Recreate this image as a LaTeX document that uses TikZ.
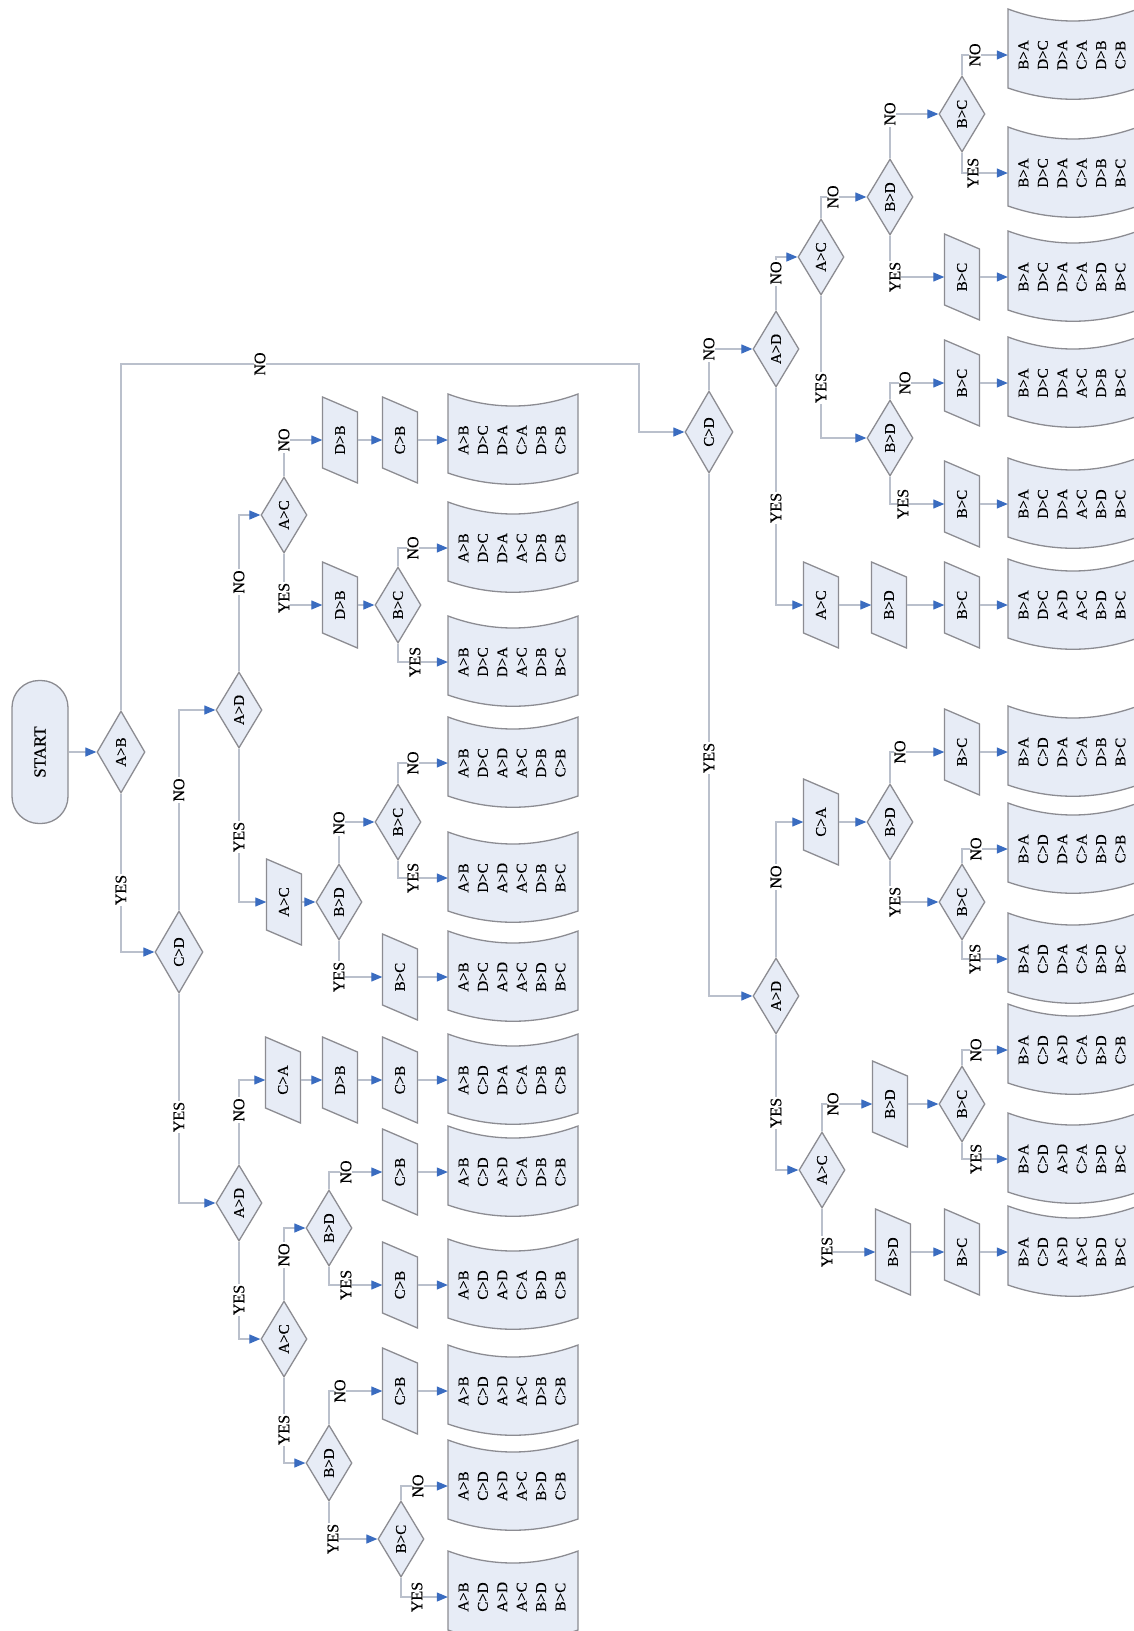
\documentclass[tikz,border=0pt]{standalone}
\usepackage{fontspec}
\setmainfont{Liberation Serif}
\newfontfamily\thk{Liberation Serif}[FakeBold=0.35]
\usetikzlibrary{shapes.geometric,arrows.meta}
\definecolor{shapefill}{RGB}{231,236,246}
\definecolor{shapeline}{RGB}{140,140,146}
\definecolor{linecol}{RGB}{186,192,204}
\definecolor{arrowcol}{RGB}{58,108,192}
\newcommand\nfont{\thk\fontsize{15}{19.4}\selectfont}
\newcommand\lfont{\thk\fontsize{16}{18}\selectfont}
\newcommand\stfont{\thk\fontsize{17}{20}\selectfont}
\tikzset{
 shp/.style={fill=shapefill, draw=shapeline, line width=1.3pt},
 dia/.style={shape=diamond, fill=shapefill, draw=shapeline, line width=1.3pt, minimum width=46pt, minimum height=76pt, inner sep=0pt, font=\nfont},
 bigdia/.style={dia, minimum width=48pt, minimum height=82pt},
 pnode/.style={rectangle, minimum width=35pt, minimum height=56pt, inner sep=0pt, font=\nfont},
 rnode/.style={rectangle, minimum width=130pt, minimum height=78pt, inner sep=0pt, font=\nfont},
 conn/.style={draw=linecol, line width=1.2pt, -{Triangle[length=11pt,width=9pt,color=arrowcol]}},
 lab/.style={fill=white, inner sep=1pt, rotate=90, font=\lfont},
}
\newcommand\pbox[4]{%
 \filldraw[shp] (#2-17.5,#3-43) -- (#2+17.5,#3-28) -- (#2+17.5,#3+43) -- (#2-17.5,#3+28) -- cycle;
 \node[pnode] (#1) at (#2,#3) {\rotatebox{90}{#4}};
}
\newcommand\rbox[4]{%
 \filldraw[shp] (#2-65,#3-46) .. controls (#2-22,#3-30) and (#2+22,#3-30) .. (#2+65,#3-46) -- (#2+65,#3+33) .. controls (#2+22,#3+48) and (#2-22,#3+48) .. (#2-65,#3+33) -- cycle;
 \node[rnode] (#1) at (#2,#3) {\rotatebox{90}{\begin{tabular}{@{}c@{}}#4\end{tabular}}};
}
\begin{document}
\begin{tikzpicture}[x=1pt,y=-1pt]
\fill[white] (0,0) rectangle (1134,1631);
\useasboundingbox (0,0) rectangle (1134,1631);

% ---------- left tree ----------
\node[shp, rectangle, rounded corners=27pt, minimum width=56pt, minimum height=143pt, font=\stfont] (start) at (40,752) {\rotatebox{90}{START}};
\node[bigdia] (AB) at (121,752) {\rotatebox{90}{A>B}};
\node[bigdia] (CD1) at (179,952) {\rotatebox{90}{C>D}};
\node[dia] (AD2) at (239,710) {\rotatebox{90}{A>D}};
\node[dia] (AC3) at (284,515) {\rotatebox{90}{A>C}};
\pbox{DB1}{340}{440}{D>B}
\pbox{CB1}{400}{440}{C>B}
\rbox{b1}{513}{440}{A>B\\D>C\\D>A\\C>A\\D>B\\C>B}
\pbox{DB2}{340}{605}{D>B}
\node[dia] (BCa) at (398,605) {\rotatebox{90}{B>C}};
\rbox{b2}{513}{548}{A>B\\D>C\\D>A\\A>C\\D>B\\C>B}
\rbox{b3}{513}{662}{A>B\\D>C\\D>A\\A>C\\D>B\\B>C}
\pbox{AC2}{284}{902}{A>C}
\node[dia] (BDa) at (339,902) {\rotatebox{90}{B>D}};
\node[dia] (BCb) at (398,822) {\rotatebox{90}{B>C}};
\rbox{b4}{513}{763}{A>B\\D>C\\A>D\\A>C\\D>B\\C>B}
\rbox{b5}{513}{878}{A>B\\D>C\\A>D\\A>C\\D>B\\B>C}
\pbox{BC1}{400}{977}{B>C}
\rbox{b6}{513}{977}{A>B\\D>C\\A>D\\A>C\\B>D\\B>C}
\node[dia] (AD4) at (239,1203) {\rotatebox{90}{A>D}};
\pbox{CA1}{283}{1080}{C>A}
\pbox{DB3}{340}{1080}{D>B}
\pbox{CB3}{400}{1080}{C>B}
\rbox{b7}{513}{1080}{A>B\\C>D\\D>A\\C>A\\D>B\\C>B}
\node[dia] (AC5) at (284,1339) {\rotatebox{90}{A>C}};
\node[dia] (BDb) at (329,1228) {\rotatebox{90}{B>D}};
\pbox{CB4}{400}{1172}{C>B}
\rbox{b8}{513}{1172}{A>B\\C>D\\A>D\\C>A\\D>B\\C>B}
\pbox{CB5}{400}{1285}{C>B}
\rbox{b9}{513}{1285}{A>B\\C>D\\A>D\\C>A\\B>D\\C>B}
\node[dia] (BDc) at (329,1463) {\rotatebox{90}{B>D}};
\pbox{CB6}{400}{1391}{C>B}
\rbox{b10}{513}{1391}{A>B\\C>D\\A>D\\A>C\\D>B\\C>B}
\node[dia] (BCc) at (401,1539) {\rotatebox{90}{B>C}};
\rbox{b11}{513}{1486}{A>B\\C>D\\A>D\\A>C\\B>D\\C>B}
\rbox{b12}{513}{1597}{A>B\\C>D\\A>D\\A>C\\B>D\\B>C}

% ---------- right tree ----------
\node[bigdia] (CDR) at (709,432) {\rotatebox{90}{C>D}};
\node[dia] (ADR2) at (776,349) {\rotatebox{90}{A>D}};
\node[dia] (ACR) at (821,257) {\rotatebox{90}{A>C}};
\node[dia] (BDR1) at (890,197) {\rotatebox{90}{B>D}};
\node[dia] (BCR1) at (962,114) {\rotatebox{90}{B>C}};
\rbox{r1}{1073}{55}{B>A\\D>C\\D>A\\C>A\\D>B\\C>B}
\rbox{r2}{1073}{173}{B>A\\D>C\\D>A\\C>A\\D>B\\B>C}
\pbox{PR3}{962}{277}{B>C}
\rbox{r3}{1073}{277}{B>A\\D>C\\D>A\\C>A\\B>D\\B>C}
\node[dia] (BDR2) at (890,438) {\rotatebox{90}{B>D}};
\pbox{PR4}{962}{383}{B>C}
\rbox{r4}{1073}{383}{B>A\\D>C\\D>A\\A>C\\D>B\\B>C}
\pbox{PR5}{962}{504}{B>C}
\rbox{r5}{1073}{504}{B>A\\D>C\\D>A\\A>C\\B>D\\B>C}
\pbox{PR6a}{821}{605}{A>C}
\pbox{PR6b}{889}{605}{B>D}
\pbox{PR6c}{962}{605}{B>C}
\rbox{r6}{1073}{605}{B>A\\D>C\\A>D\\A>C\\B>D\\B>C}
\node[dia] (ADR3) at (776,996) {\rotatebox{90}{A>D}};
\pbox{PR7a}{821}{822}{C>A}
\node[dia] (BDR3) at (890,822) {\rotatebox{90}{B>D}};
\pbox{PR7}{962}{752}{B>C}
\rbox{r7}{1073}{752}{B>A\\C>D\\D>A\\C>A\\D>B\\B>C}
\node[dia] (BCR3) at (962,902) {\rotatebox{90}{B>C}};
\rbox{r8}{1073}{849}{B>A\\C>D\\D>A\\C>A\\B>D\\C>B}
\rbox{r9}{1073}{959}{B>A\\C>D\\D>A\\C>A\\B>D\\B>C}
\node[dia] (ACR4) at (822,1170) {\rotatebox{90}{A>C}};
\pbox{PR10}{890}{1104}{B>D}
\node[dia] (BCR4) at (962,1104) {\rotatebox{90}{B>C}};
\rbox{r10}{1073}{1050}{B>A\\C>D\\A>D\\C>A\\B>D\\C>B}
\rbox{r11}{1073}{1159}{B>A\\C>D\\A>D\\C>A\\B>D\\B>C}
\pbox{PR12a}{893}{1252}{B>D}
\pbox{PR12b}{962}{1252}{B>C}
\rbox{r12}{1073}{1252}{B>A\\C>D\\A>D\\A>C\\B>D\\B>C}

% ---------- connectors left ----------
\draw[conn] (start.east) -- (AB.west);
\draw[conn] (AB.south) |- (CD1.west);
\draw[conn] (CD1.north) |- (AD2.west);
\draw[conn] (AD2.north) |- (AC3.west);
\draw[conn] (AC3.north) |- (DB1.west);
\draw[conn] (DB1.east) -- (CB1.west);
\draw[conn] (CB1.east) -- (b1.west);
\draw[conn] (AC3.south) |- (DB2.west);
\draw[conn] (DB2.east) -- (BCa.west);
\draw[conn] (BCa.north) |- (b2.west);
\draw[conn] (BCa.south) |- (b3.west);
\draw[conn] (AD2.south) |- (AC2.west);
\draw[conn] (AC2.east) -- (BDa.west);
\draw[conn] (BDa.north) |- (BCb.west);
\draw[conn] (BCb.north) |- (b4.west);
\draw[conn] (BCb.south) |- (b5.west);
\draw[conn] (BDa.south) |- (BC1.west);
\draw[conn] (BC1.east) -- (b6.west);
\draw[conn] (CD1.south) |- (AD4.west);
\draw[conn] (AD4.north) |- (CA1.west);
\draw[conn] (CA1.east) -- (DB3.west);
\draw[conn] (DB3.east) -- (CB3.west);
\draw[conn] (CB3.east) -- (b7.west);
\draw[conn] (AD4.south) |- (AC5.west);
\draw[conn] (AC5.north) |- (BDb.west);
\draw[conn] (BDb.north) |- (CB4.west);
\draw[conn] (CB4.east) -- (b8.west);
\draw[conn] (BDb.south) |- (CB5.west);
\draw[conn] (CB5.east) -- (b9.west);
\draw[conn] (AC5.south) |- (BDc.west);
\draw[conn] (BDc.north) |- (CB6.west);
\draw[conn] (CB6.east) -- (b10.west);
\draw[conn] (BDc.south) |- (BCc.west);
\draw[conn] (BCc.north) |- (b11.west);
\draw[conn] (BCc.south) |- (b12.west);

% ---------- connectors right ----------
\coordinate (cNO) at (639,364);
\draw[conn] (AB.north) |- (cNO) |- (CDR.west);
\draw[conn] (CDR.north) |- (ADR2.west);
\draw[conn] (ADR2.north) |- (ACR.west);
\draw[conn] (ACR.north) |- (BDR1.west);
\draw[conn] (BDR1.north) |- (BCR1.west);
\draw[conn] (BCR1.north) |- (r1.west);
\draw[conn] (BCR1.south) |- (r2.west);
\draw[conn] (BDR1.south) |- (PR3.west);
\draw[conn] (PR3.east) -- (r3.west);
\draw[conn] (ACR.south) |- (BDR2.west);
\draw[conn] (BDR2.north) |- (PR4.west);
\draw[conn] (PR4.east) -- (r4.west);
\draw[conn] (BDR2.south) |- (PR5.west);
\draw[conn] (PR5.east) -- (r5.west);
\draw[conn] (ADR2.south) |- (PR6a.west);
\draw[conn] (PR6a.east) -- (PR6b.west);
\draw[conn] (PR6b.east) -- (PR6c.west);
\draw[conn] (PR6c.east) -- (r6.west);
\draw[conn] (CDR.south) |- (ADR3.west);
\draw[conn] (ADR3.north) |- (PR7a.west);
\draw[conn] (PR7a.east) -- (BDR3.west);
\draw[conn] (BDR3.north) |- (PR7.west);
\draw[conn] (PR7.east) -- (r7.west);
\draw[conn] (BDR3.south) |- (BCR3.west);
\draw[conn] (BCR3.north) |- (r8.west);
\draw[conn] (BCR3.south) |- (r9.west);
\draw[conn] (ADR3.south) |- (ACR4.west);
\draw[conn] (ACR4.north) |- (PR10.west);
\draw[conn] (PR10.east) -- (BCR4.west);
\draw[conn] (BCR4.north) |- (r10.west);
\draw[conn] (BCR4.south) |- (r11.west);
\draw[conn] (ACR4.south) |- (PR12a.west);
\draw[conn] (PR12a.east) -- (PR12b.west);
\draw[conn] (PR12b.east) -- (r12.west);

% ---------- labels ----------
\node[lab] (l1) at (121,890) {YES};
\node[lab] (l2) at (260,364) {NO};
\node[lab] (l3) at (179,790) {NO};
\node[lab] (l4) at (179,1117) {YES};
\node[lab] (l5) at (239,582) {NO};
\node[lab] (l6) at (239,837) {YES};
\node[lab] (l7) at (284,440) {NO};
\node[lab] (l8) at (284,598) {YES};
\node[lab] (l9) at (413,548) {NO};
\node[lab] (l10) at (415,662) {YES};
\node[lab] (l11) at (339,823) {NO};
\node[lab] (l12) at (413,763) {NO};
\node[lab] (l13) at (413,878) {YES};
\node[lab] (l14) at (339,977) {YES};
\node[lab] (l15) at (239,1110) {NO};
\node[lab] (l16) at (239,1300) {YES};
\node[lab] (l17) at (284,1255) {NO};
\node[lab] (l18) at (346,1172) {NO};
\node[lab] (l19) at (346,1285) {YES};
\node[lab] (l20) at (284,1430) {YES};
\node[lab] (l21) at (340,1391) {NO};
\node[lab] (l22) at (333,1539) {YES};
\node[lab] (l23) at (418,1486) {NO};
\node[lab] (l24) at (417,1597) {YES};
\node[lab] (m1) at (709,349) {NO};
\node[lab] (m2) at (776,273) {NO};
\node[lab] (m3) at (833,197) {NO};
\node[lab] (m4) at (890,114) {NO};
\node[lab] (m5) at (975,55) {NO};
\node[lab] (m6) at (973,173) {YES};
\node[lab] (m7) at (895,277) {YES};
\node[lab] (m8) at (821,388) {YES};
\node[lab] (m9) at (905,383) {NO};
\node[lab] (m10) at (903,504) {YES};
\node[lab] (m11) at (776,508) {YES};
\node[lab] (m12) at (709,758) {YES};
\node[lab] (m13) at (776,877) {NO};
\node[lab] (m14) at (900,752) {NO};
\node[lab] (m15) at (895,902) {YES};
\node[lab] (m16) at (976,849) {NO};
\node[lab] (m17) at (975,959) {YES};
\node[lab] (m18) at (776,1113) {YES};
\node[lab] (m19) at (833,1104) {NO};
\node[lab] (m20) at (976,1050) {NO};
\node[lab] (m21) at (976,1159) {YES};
\node[lab] (m22) at (827,1252) {YES};
\end{tikzpicture}
\end{document}
